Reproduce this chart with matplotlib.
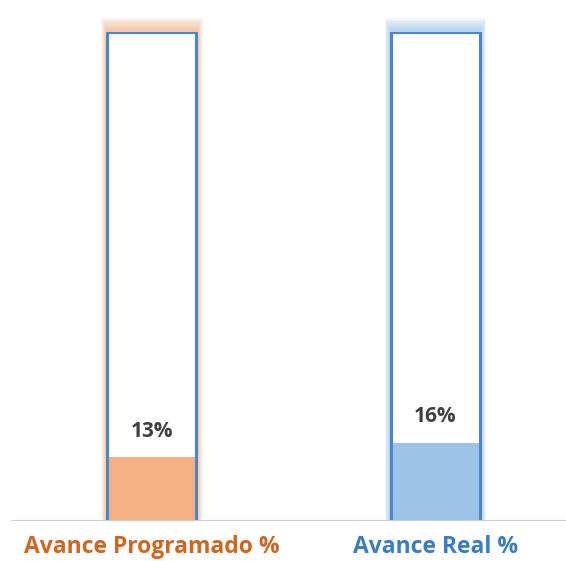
import matplotlib.pyplot as plt
from matplotlib.patches import Rectangle

# --- Data ---
categories = ['Avance Programado %', 'Avance Real %']
values = [13, 16]
total = [100, 100]
fill_colors = ['#F4B183', '#9DC3E6']
glow_colors = ['#F4B183', '#9DC3E6']
label_colors = ['#D0661F', '#3A7DC4']

plt.rcParams['font.family'] = ['Open Sans', 'DejaVu Sans']

W, H = 566, 561
fig = plt.figure(figsize=(W / 100, H / 100), dpi=100)
ax = fig.add_axes([11 / W, 40 / H, 555 / W, 489 / H])

x = list(range(len(categories)))
bw = 0.314

# soft glow around the outline columns (stronger at the top)
for xi, t, gc in zip(x, total, glow_colors):
    steps = 8
    for k in range(steps, 0, -1):
        dx = k * 0.0027
        dy = k * 0.36
        ax.add_patch(Rectangle((xi - bw / 2 - dx, 0), bw + 2 * dx, t + dy,
                               facecolor=gc, edgecolor='none', alpha=0.13,
                               clip_on=False, zorder=1))

ax.bar(x, total, width=bw, color='white', edgecolor='#4A86C8', linewidth=2.2, zorder=2)
ax.bar(x, values, width=bw - 0.006, color=fill_colors, edgecolor='none', zorder=3)
# redraw outline on top of fill
ax.bar(x, total, width=bw, color='none', edgecolor='#4A86C8', linewidth=2.2, zorder=4)

for xi, v in zip(x, values):
    ax.annotate(f'{v}%', (xi, v), xytext=(0, 11), textcoords='offset points',
                ha='center', va='bottom', fontsize=15, fontweight='bold', color='#404040')

ax.set_xlim(-0.497, 1.46)
ax.set_ylim(0, 100)
ax.axhline(0, color='#D0D0D0', linewidth=1.5, zorder=5)
for s in ax.spines.values():
    s.set_visible(False)
ax.set_yticks([])
ax.set_xticks(x)
ax.set_xticklabels(categories, fontsize=16.5, fontweight='bold')
for lbl, c in zip(ax.get_xticklabels(), label_colors):
    lbl.set_color(c)
ax.tick_params(axis='x', length=0, pad=10)

fig.savefig('out.png', dpi=100)
